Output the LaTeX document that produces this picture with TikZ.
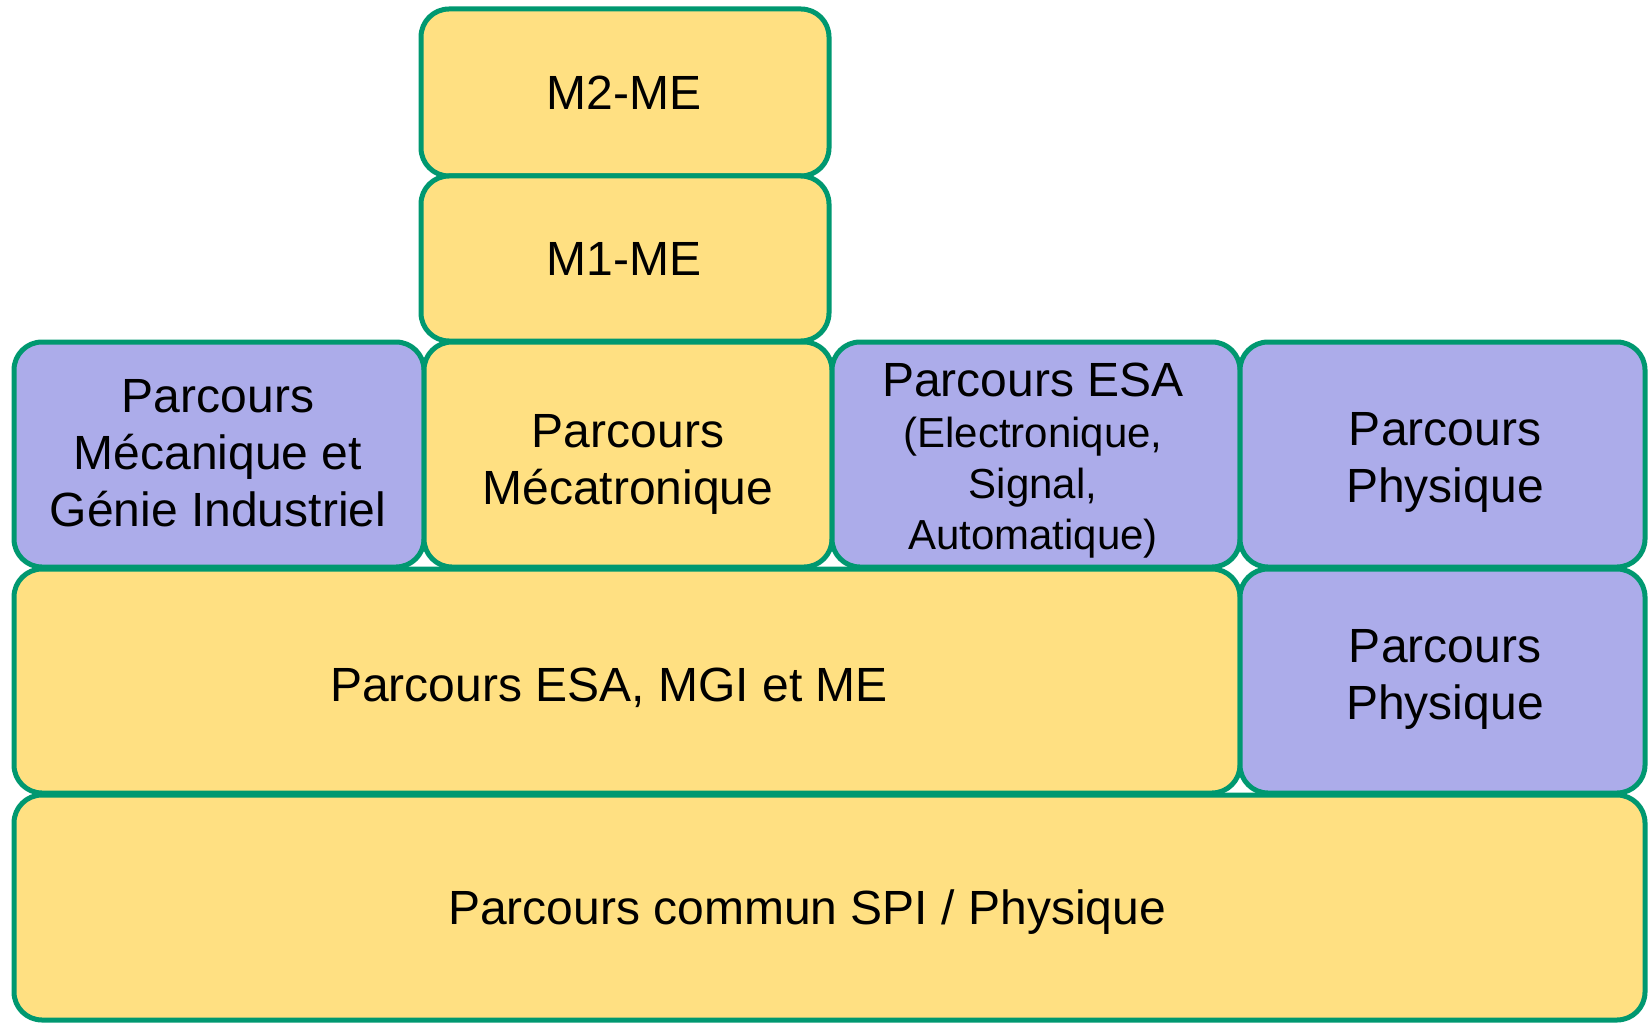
\documentclass[tikz,border=0pt]{standalone}
\usepackage{fontspec}
\setmainfont{Liberation Sans}
\definecolor{yfill}{RGB}{255,224,130}
\definecolor{pfill}{RGB}{172,172,234}
\definecolor{gline}{RGB}{0,152,112}
\tikzset{
  boxbase/.style={draw=gline, line width=5pt, rounded corners=28pt, inner sep=0pt},
  ybox/.style={boxbase, fill=yfill},
  pbox/.style={boxbase, fill=pfill},
  txt/.style={inner sep=0pt, align=center, text depth=0pt, anchor=south,
    font=\fontsize{48}{57}\selectfont},
  smalltxt/.style={txt, font=\fontsize{42}{51}\selectfont}
}
\begin{document}
\begin{tikzpicture}[x=1pt,y=-1pt]
\useasboundingbox (0,0) rectangle (1648,1024);
% boxes
\node[ybox, minimum width=408pt, minimum height=167pt] (m2) at (625,92.5) {};
\node[ybox, minimum width=408pt, minimum height=165pt] (m1) at (625,258.5) {};
\node[pbox, minimum width=410pt, minimum height=225pt] (mgi) at (219,454.5) {};
\node[ybox, minimum width=408pt, minimum height=225pt] (meca) at (628,454.5) {};
\node[pbox, minimum width=408pt, minimum height=225pt] (esa) at (1036,454.5) {};
\node[pbox, minimum width=405pt, minimum height=225pt] (phys1) at (1442.5,454.5) {};
\node[ybox, minimum width=1226pt, minimum height=224pt] (mid) at (627,681) {};
\node[pbox, minimum width=405pt, minimum height=224pt] (phys2) at (1442.5,681) {};
\node[ybox, minimum width=1631pt, minimum height=225pt] (common) at (829.5,907.5) {};
% texts
\node[txt] (tm2) at (624,110) {M2-ME};
\node[txt] (tm1) at (624,276) {M1-ME};
\node[txt] (tmgi) at (218,527) {Parcours\\Mécanique et\\Génie Industriel};
\node[txt] (tmeca) at (628,505) {Parcours\\Mécatronique};
\node[smalltxt] (tesa) at (1033,550) {{\fontsize{48}{51}\selectfont Parcours ESA}\\(Electronique,\\Signal,\\Automatique)};
\node[txt] (tphys1) at (1445,503) {Parcours\\Physique};
\node[txt] (tmid) at (609,702) {Parcours ESA, MGI et ME};
\node[txt] (tphys2) at (1445,720) {Parcours\\Physique};
\node[txt] (tcommon) at (807,925) {Parcours commun SPI / Physique};
\end{tikzpicture}
\end{document}
